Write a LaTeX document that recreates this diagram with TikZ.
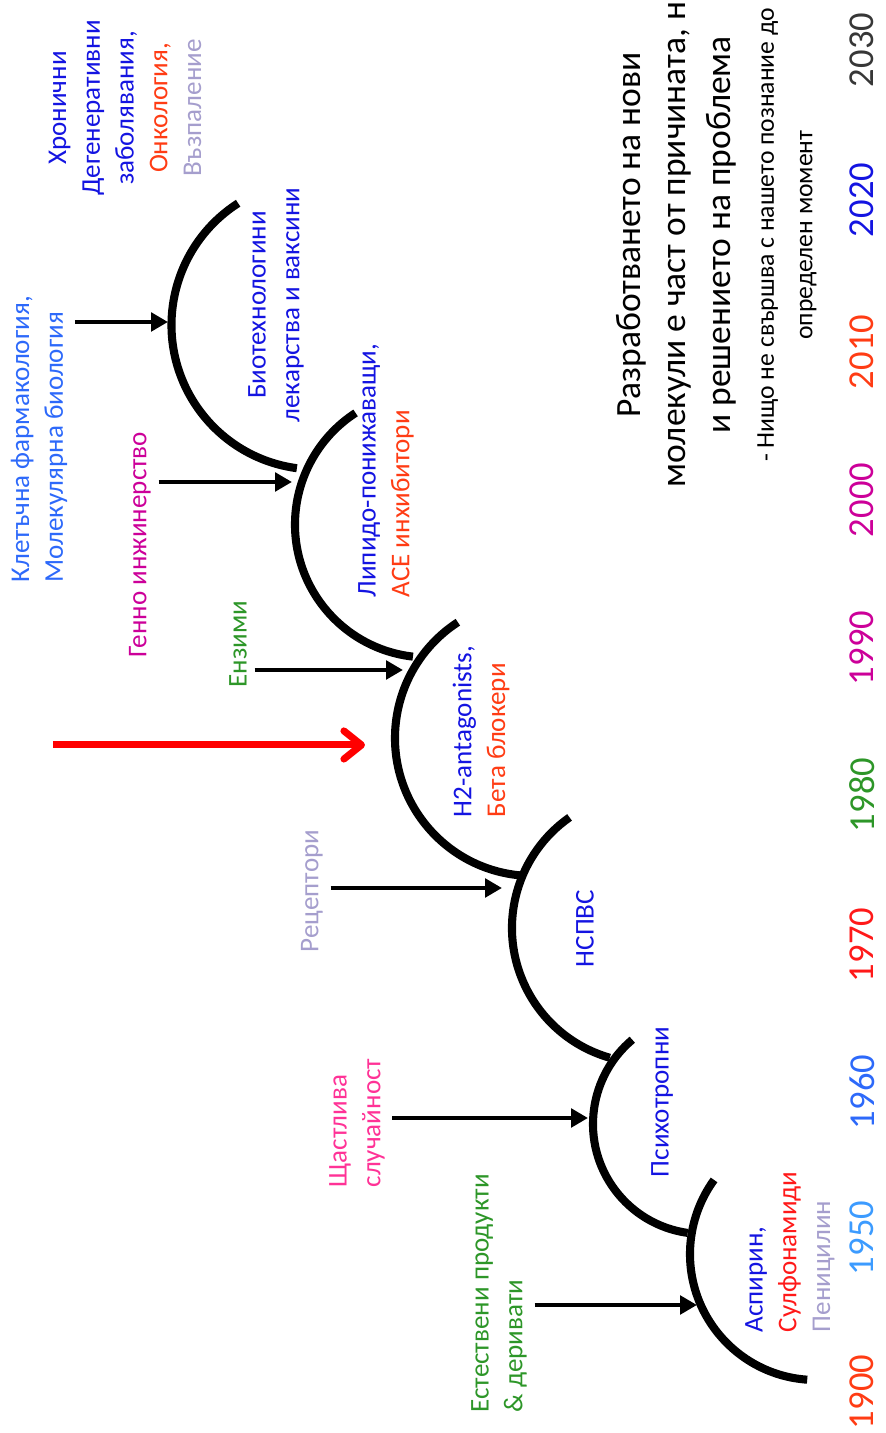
\documentclass[tikz,border=0pt]{standalone}
\usepackage{fontspec}
\setmainfont{Carlito}
\usepackage{tikz}
\usetikzlibrary{positioning}
\usetikzlibrary{arrows.meta}

\definecolor{tblue}{RGB}{20,20,225}
\definecolor{tred}{RGB}{255,25,25}
\definecolor{torange}{RGB}{255,60,20}
\definecolor{tlav}{RGB}{165,158,205}
\definecolor{tgreen}{RGB}{45,150,40}
\definecolor{tpink}{RGB}{255,50,150}
\definecolor{tmag}{RGB}{204,0,153}
\definecolor{tsky}{RGB}{60,155,255}
\definecolor{tazure}{RGB}{45,105,250}
\definecolor{tgray}{RGB}{55,55,55}

\tikzset{
    lbl/.style={font=\fontsize{7.7}{9.6}\selectfont, align=left, anchor=west, inner sep=2pt},
    yearlbl/.style={font=\fontsize{10.4}{12}\selectfont},
    curve/.style={line width=2.3pt},
    arr/.style={line width=1.2pt, -{Triangle[length=4.8pt,width=5.2pt]}},
    redarr/.style={red, line width=2pt, -{Straight Barb[length=5pt,width=8pt,round]}}
}

\begin{document}
\begin{tikzpicture}[rotate=90, transform shape]
\useasboundingbox (0,0) rectangle (14.33,8.85);
\clip (0,0) rectangle (14.33,8.85);

% the chain of arcs
\foreach \cx/\cy/\r/\a/\b in {1.79/0.69/1.26/176/54, 3.09/1.82/1.10/172/40, 5.05/2.38/1.35/164/35, 6.95/3.52/1.38/175/33, 9.085/4.57/1.33/173.5/33, 11.08/5.69/1.445/172.4/32.6} {
    \draw[curve] (\cx,\cy) ++(\a:\r) arc[start angle=\a, end angle=\b, radius=\r];
}

% what goes in
\node[lbl] (nat) at (0.13,3.86) {\textcolor{tgreen}{Естествени продукти}\\\textcolor{tgreen}{\& деривати}};
\node[lbl] (luck) at (2.38,5.28) {\textcolor{tpink}{Щастлива}\\\textcolor{tpink}{случайност}};
\node[lbl] (rec) at (4.73,5.73) {\textcolor{tlav}{Рецептори}};
\node[lbl] (enz) at (7.38,6.47) {\textcolor{tgreen}{Ензими}};
\node[lbl] (gen) at (7.68,7.45) {\textcolor{tmag}{Генно инжинерство}};
\node[lbl] (cell) at (8.43,8.46) {\textcolor{tazure}{Клетъчна фармакология,}\\\textcolor{tazure}{Молекулярна биология}};

% what comes out
\node[lbl] (asp) at (0.93,0.95) {\textcolor{tblue}{Аспирин,}\\\textcolor{tred}{Сулфонамиди}\\\textcolor{tlav}{Пеницилин}};
\node[lbl] (psy) at (2.48,2.23) {\textcolor{tblue}{Психотропни}};
\node[lbl] (nsaid) at (4.58,3.00) {\textcolor{tblue}{НСПВС}};
\node[lbl] (h2) at (6.08,4.04) {\textcolor{tblue}{H2-antagonists,}\\\textcolor{torange}{Бета блокери}};
\node[lbl] (lip) at (8.28,4.99) {\textcolor{tblue}{Липидо-понижаващи,}\\\textcolor{torange}{ACE инхибитори}};
\node[lbl, anchor=center, align=center] (bio) at (11.28,6.09) {\textcolor{tblue}{Биотехнологини}\\\textcolor{tblue}{лекарства и ваксини}};
\node[lbl, anchor=center, align=center] (chron) at (13.25,7.60) {\textcolor{tblue}{Хронични}\\\textcolor{tblue}{Дегенеративни}\\\textcolor{tblue}{заболявания,}\\\textcolor{torange}{Онкология,}\\\textcolor{tlav}{Възпаление}};

% where the arrows hit
\coordinate (t1) at (1.28,1.88);
\coordinate (t2) at (3.15,2.97);
\coordinate (t3) at (5.45,3.83);
\coordinate (t4) at (7.63,4.82);
\coordinate (t5) at (9.51,5.93);
\coordinate (t6) at (11.11,7.17);
\foreach \l/\t in {nat/t1, luck/t2, rec/t3, enz/t4, gen/t5, cell/t6} {
    \draw[arr] (\t |- \l.south) -- (\t);
}
\coordinate (redstart) at (6.88,8.32);
\coordinate (redtip) at (6.88,5.20);
\draw[redarr] (redstart) -- (redtip);

% title text
\node[font=\fontsize{10.1}{12.8}\selectfont, align=center] (title) at (11.98,2.09) {Разработването на нови\\молекули е част от причината, но\\и решението на проблема};
\node[font=\fontsize{7.3}{11}\selectfont, align=center] (note) at (11.98,0.98) {- Нищо не свършва с нашето познание до\\определен момент};

% time axis
\foreach \x/\yr/\col in {0.41/1900/torange, 1.95/1950/tsky, 3.41/1960/tazure, 4.88/1970/tred, 6.38/1980/tgreen, 7.85/1990/tmag, 9.33/2000/tmag, 10.81/2010/torange, 12.33/2020/tblue, 13.83/2030/tgray} {
    \node[yearlbl, text=\col] (y\yr) at (\x,0.23) {\yr};
}
\end{tikzpicture}
\end{document}
